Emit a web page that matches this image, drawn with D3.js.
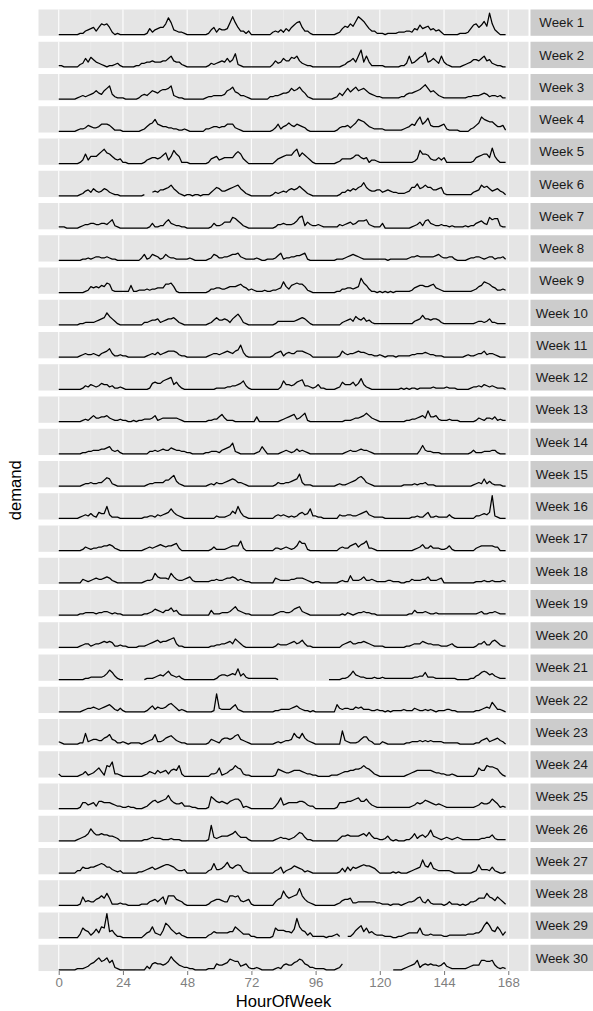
<!DOCTYPE html>
<html>
<head>
<meta charset="utf-8">
<script src="https://cdn.jsdelivr.net/npm/d3@7"></script>
<style>
body { margin: 0; background: #fff; }
svg text { font-family: "Liberation Sans", Arial, Helvetica, sans-serif; }
</style>
</head>
<body>
<div id="chart"></div>
<script>
// hourly demand per week, 168 values each (hour 0..167), null = no data
const week1 = [0,0,0,0,0,0,0,0,1,1,3,4,5,6,3,6,9,8,9,6,2,0,1,0,
  0,0,0,0,0,0,0,0,0,1,5,2,4,5,6,6,9,14,10,4,3,2,2,1,
  0,0,0,0,0,0,0,0,1,4,6,2,5,4,4,5,10,15,10,6,3,3,1,3,
  0,0,0,0,0,0,0,0,2,3,2,4,2,5,3,6,8,10,11,6,3,3,1,0,
  0,0,0,0,0,0,0,0,1,2,5,7,6,9,7,11,15,13,11,8,5,3,3,1,
  1,1,0,1,1,1,1,2,2,2,3,3,2,5,4,8,5,6,7,4,5,3,4,2,
  0,0,0,0,0,0,1,1,1,2,5,8,9,6,8,11,7,18,9,4,2,0,0,0];
const week2 = [1,1,0,0,0,0,0,0,2,3,7,4,8,6,4,3,2,1,0,1,1,2,3,1,
  0,0,0,0,0,1,1,3,3,4,4,5,4,4,4,5,5,7,9,5,4,4,2,1,
  0,0,0,0,0,0,0,0,1,3,2,3,4,5,4,7,4,6,11,2,1,0,0,0,
  0,0,0,0,0,0,0,0,2,5,3,4,7,5,5,8,7,9,5,3,2,1,1,0,
  0,0,0,0,0,0,0,0,0,0,1,2,4,5,7,4,9,14,4,9,4,1,1,1,
  1,1,0,0,0,0,0,0,1,1,3,9,3,4,6,8,9,12,4,5,7,5,3,9,
  4,2,1,0,0,0,0,1,2,3,4,6,6,5,7,9,5,6,3,2,1,1,0,0];
const week3 = [0,0,0,0,0,0,0,1,2,3,2,3,4,5,7,5,4,7,9,11,4,2,1,1,
  1,0,0,0,0,0,1,3,4,3,5,7,6,5,7,8,8,9,11,3,2,1,1,0,
  0,0,0,0,0,0,0,1,2,2,3,3,3,3,4,7,8,10,6,5,3,3,2,1,
  0,0,0,0,0,0,0,2,2,3,3,4,5,5,6,9,7,8,10,7,5,2,1,0,
  0,0,0,0,0,0,0,1,2,5,3,6,9,6,8,10,7,8,9,7,5,4,3,2,
  2,1,1,1,1,1,1,1,2,2,4,5,5,6,7,8,10,12,9,6,7,5,3,2,
  1,1,1,1,1,1,1,1,1,2,2,3,3,3,4,5,4,2,3,3,2,3,1,1];
const week4 = [0,0,0,0,0,0,0,1,2,2,3,5,4,3,3,4,6,6,6,5,3,1,1,1,
  0,0,0,0,0,0,0,1,2,4,6,7,10,6,5,4,4,3,3,2,2,1,1,2,
  1,0,0,0,0,0,0,2,2,3,4,4,3,4,4,6,6,6,3,2,1,0,0,0,
  0,0,0,0,0,0,0,0,1,3,6,2,4,5,7,5,4,6,5,4,3,1,0,0,
  0,0,0,0,0,0,0,0,1,3,4,4,5,3,5,7,10,9,8,6,4,3,2,2,
  2,2,1,1,1,1,1,1,1,2,3,4,6,5,9,12,6,8,11,5,4,4,4,5,
  6,2,1,1,1,1,0,0,0,0,2,3,5,7,12,10,9,8,8,6,4,4,5,1];
const week5 = [0,0,0,0,0,0,0,0,1,3,8,3,6,6,6,8,10,12,9,8,6,4,3,4,
  1,1,0,0,0,0,0,0,1,3,4,5,5,4,5,7,9,3,6,11,8,6,1,1,
  1,0,0,0,0,0,0,0,1,4,5,6,3,4,5,5,5,5,8,10,8,4,2,0,
  0,0,0,0,0,0,0,0,0,2,4,5,6,7,7,7,10,12,6,9,7,5,3,1,
  0,0,0,0,0,0,0,0,1,2,4,4,4,4,5,7,7,5,4,5,1,3,3,2,
  1,1,1,1,1,1,1,1,1,1,1,1,1,2,4,11,8,8,7,4,3,3,5,3,
  5,1,1,1,1,1,1,1,1,1,1,2,5,6,7,8,8,5,13,6,3,1,1,1];
const week6 = [0,0,0,0,0,0,0,0,1,2,4,5,3,6,4,3,4,6,5,3,2,1,1,0,
  0,0,0,0,0,0,0,0,1,null,null,3,4,3,5,5,6,7,9,6,4,2,1,0,
  1,1,0,1,1,0,1,1,1,3,5,7,6,4,4,5,6,7,8,9,6,4,2,1,
  0,0,0,0,0,0,0,0,1,3,2,3,4,3,5,6,5,6,8,6,4,2,1,0,
  0,0,0,0,0,0,0,0,0,1,3,3,5,4,6,5,7,8,11,7,5,4,4,5,
  5,3,4,5,4,3,3,2,2,2,3,4,7,7,10,6,7,9,7,7,5,5,6,7,
  2,1,1,1,1,1,1,1,1,1,1,3,4,5,9,7,8,6,4,5,6,4,3,1];
const week7 = [1,1,1,0,0,0,0,0,1,2,3,3,4,4,3,3,4,4,3,5,7,2,1,0,
  0,0,0,0,0,0,0,0,0,0,1,4,1,1,2,2,5,7,4,3,2,2,1,1,
  0,0,0,0,0,0,0,0,0,1,4,2,2,3,5,5,5,9,8,6,4,2,1,0,
  0,0,0,0,0,0,0,0,0,1,3,3,4,3,3,3,4,6,9,10,2,5,3,2,
  2,3,2,1,1,1,1,1,1,3,2,3,4,5,3,4,6,6,6,7,3,2,1,1,
  1,4,0,0,0,0,0,0,0,0,0,0,1,2,3,5,2,6,7,4,3,2,2,3,
  2,2,1,2,1,1,1,1,2,1,2,2,4,5,6,4,3,9,7,8,8,2,1,1];
const week8 = [0,0,0,0,0,0,0,0,0,1,1,2,1,2,3,3,2,2,3,2,1,1,0,0,
  0,0,0,0,0,0,0,2,5,1,2,5,4,3,1,2,5,3,2,2,1,1,1,1,
  1,2,1,0,0,0,0,0,1,2,5,4,2,2,3,3,4,5,5,6,3,2,1,1,
  1,1,2,1,0,0,1,1,1,2,4,6,1,2,2,3,3,4,4,5,6,1,0,0,
  0,0,0,0,0,0,0,0,1,1,1,2,3,4,5,4,3,2,1,1,1,1,1,1,
  1,1,1,0,1,1,1,1,1,1,1,2,3,3,4,3,3,3,3,3,3,4,5,3,
  2,2,3,3,1,0,0,0,0,1,2,2,3,3,2,1,2,3,3,1,2,2,3,1];
const week9 = [0,0,0,0,0,0,0,0,0,0,1,2,5,4,5,4,6,5,8,7,2,1,1,1,
  1,1,1,6,1,1,2,2,2,3,2,3,3,4,4,4,7,7,8,5,1,0,0,0,
  0,0,0,0,0,0,0,0,1,3,3,4,4,3,3,4,5,5,5,6,7,5,4,2,
  3,2,1,1,1,2,1,1,2,2,3,4,9,5,3,6,7,8,7,7,5,2,1,0,
  0,0,0,0,0,0,0,0,1,1,3,3,4,4,3,4,5,12,8,6,3,1,1,0,
  1,0,1,0,1,0,1,1,1,1,1,1,2,4,5,6,6,5,5,6,7,4,3,2,
  1,1,1,1,1,1,1,1,1,1,1,2,3,5,6,9,8,7,5,4,2,2,3,2];
const week10 = [0,0,0,0,0,0,0,0,1,1,2,2,2,2,3,4,5,6,10,7,5,3,1,0,
  0,0,0,0,0,0,0,0,2,2,3,4,4,5,2,3,4,5,5,6,4,2,1,0,
  0,0,0,0,0,0,0,0,1,2,4,6,4,4,5,4,2,5,7,9,6,2,1,0,
  0,0,0,0,0,0,0,0,0,1,3,3,3,3,3,3,3,4,5,6,5,3,1,0,
  0,0,0,0,0,0,0,0,0,0,2,3,4,5,3,7,5,4,6,3,4,2,1,1,
  1,1,1,1,1,1,1,1,1,1,1,1,1,3,4,5,8,5,5,4,5,5,4,2,
  1,1,1,1,1,1,1,1,1,1,1,1,2,3,3,2,3,5,2,2,1,1,1,1];
const week11 = [0,0,0,0,0,0,0,0,1,2,3,2,2,3,2,1,3,4,5,7,3,1,1,2,
  1,1,0,0,0,0,0,0,0,1,2,3,2,4,2,3,4,5,5,5,4,2,1,1,
  0,0,0,0,0,0,0,0,1,2,3,3,2,3,4,5,4,3,5,6,10,4,1,0,
  0,0,0,0,0,0,0,0,1,3,4,5,1,3,4,3,3,5,5,5,4,3,2,0,
  0,0,0,0,0,0,0,0,0,1,5,3,2,3,3,4,5,4,4,3,2,2,1,1,
  2,1,0,1,1,1,0,1,1,1,1,1,2,2,3,3,3,4,3,2,2,1,1,1,
  0,0,0,0,0,0,0,0,1,2,1,1,2,3,3,5,2,3,3,2,1,0,0,0];
const week12 = [0,0,0,0,0,0,0,0,0,1,3,2,4,3,2,3,5,4,4,2,3,1,1,2,
  1,0,0,0,0,0,0,0,0,0,1,5,6,5,5,7,8,9,10,4,6,3,1,0,
  0,0,0,0,0,0,0,0,0,0,0,1,1,1,1,2,2,3,3,4,5,7,3,1,
  0,0,0,0,0,0,0,0,0,0,0,2,7,4,4,3,4,6,7,8,3,3,2,1,
  2,4,1,1,0,0,0,0,1,2,6,4,4,4,6,3,5,9,4,2,1,0,0,0,
  0,0,0,0,0,0,0,0,1,0,1,0,1,1,0,1,1,1,1,1,2,1,1,1,
  1,2,1,1,1,0,0,0,0,0,1,2,2,3,2,4,3,2,3,2,1,1,1,0];
const week13 = [0,0,0,0,0,0,0,0,0,1,2,1,3,5,3,3,4,4,5,3,2,1,1,2,
  1,1,0,0,1,0,1,1,2,2,2,3,5,1,2,3,3,3,3,3,3,2,1,0,
  0,0,0,0,0,0,0,0,1,1,2,2,4,6,3,1,1,1,0,0,0,0,0,0,
  0,0,4,0,0,0,0,0,0,0,0,1,2,3,4,5,6,2,3,5,7,1,0,0,
  0,0,0,0,0,0,0,0,0,0,0,1,1,1,2,3,3,4,5,7,5,3,2,1,
  0,0,0,0,0,0,0,0,0,0,1,1,2,2,3,4,5,3,9,4,4,5,2,1,
  1,1,2,1,1,1,0,0,0,0,0,0,1,3,2,1,3,3,2,4,1,2,1,1];
const week14 = [0,0,0,0,0,0,0,0,0,1,1,2,2,3,3,3,4,4,5,6,3,2,3,1,
  0,0,0,0,0,0,0,0,0,0,2,2,3,2,3,4,3,3,5,4,3,3,2,2,
  1,1,0,0,0,0,0,1,1,2,2,2,1,3,4,5,6,9,2,1,0,0,0,0,
  0,0,1,2,6,3,0,0,0,0,0,1,2,3,2,1,2,4,2,3,2,1,0,0,
  0,0,0,0,0,0,0,0,0,0,0,1,2,3,2,2,3,4,3,3,2,1,0,0,
  0,0,0,0,0,0,0,0,0,0,0,0,0,0,0,3,7,3,2,2,1,1,1,0,
  0,0,0,0,0,0,0,0,0,0,1,3,1,1,1,2,2,2,3,3,1,0,0,0];
const week15 = [0,0,0,0,0,0,0,0,0,1,2,2,3,2,2,3,3,5,7,6,2,1,0,0,
  0,0,0,0,0,0,0,0,0,1,2,2,3,3,3,3,5,5,7,9,4,2,1,0,
  0,0,0,0,0,0,0,0,1,2,1,3,2,2,3,4,5,6,5,3,3,2,1,0,
  0,0,0,0,0,0,0,0,0,1,3,2,2,3,3,4,5,6,10,3,1,1,1,0,
  0,0,0,0,0,0,0,0,1,2,1,1,2,3,4,5,7,8,6,3,2,1,0,0,
  0,0,0,0,0,0,0,0,0,1,1,1,1,2,1,2,2,3,1,1,1,0,0,0,
  0,0,0,0,0,0,0,0,0,0,0,1,2,3,2,6,2,4,2,1,1,1,0,0];
const week16 = [0,0,0,0,0,0,0,0,1,2,3,2,4,2,1,5,4,4,10,3,1,1,1,0,
  0,0,0,0,0,0,0,0,1,1,2,2,1,3,2,3,4,5,8,5,3,2,1,0,
  0,0,0,0,0,0,0,0,0,0,0,2,1,1,1,2,3,6,4,10,5,2,1,0,
  0,0,0,0,0,0,0,0,0,2,3,2,3,2,1,2,1,2,4,5,3,4,8,2,
  2,1,1,0,0,0,0,0,0,3,2,2,3,3,2,2,3,4,5,6,3,2,1,1,
  1,1,0,0,0,0,0,0,0,0,0,0,1,1,2,1,1,3,5,1,1,2,1,1,
  1,1,3,1,0,0,0,0,0,0,0,0,2,2,3,4,3,5,19,2,1,0,0,0];
const week17 = [0,0,0,0,0,0,0,0,0,1,3,2,1,2,2,3,3,4,4,5,4,2,1,0,
  0,0,0,0,0,0,0,0,1,2,3,2,3,4,5,4,3,4,4,5,6,2,0,0,
  0,0,0,0,0,0,0,0,0,1,3,1,1,1,1,2,3,4,4,4,8,2,0,0,
  0,0,0,0,0,0,0,0,0,2,2,1,2,3,2,1,2,4,8,6,6,1,0,0,
  0,0,0,0,0,0,0,0,0,2,3,2,2,4,5,6,3,5,6,8,2,2,1,0,
  0,0,0,0,0,0,0,0,0,0,0,0,0,1,2,3,5,2,2,4,2,2,2,1,
  1,2,4,1,0,0,0,0,0,0,0,0,2,3,4,4,4,4,4,3,3,0,0,0];
const week18 = [0,0,0,0,0,0,0,0,0,3,2,1,2,3,4,3,3,4,5,4,2,1,0,0,
  0,0,0,0,0,0,0,0,1,2,2,3,8,5,4,4,4,3,8,5,3,2,2,3,
  4,5,2,1,1,1,1,1,1,2,2,3,2,2,3,4,4,5,4,2,3,2,1,1,
  0,0,0,0,0,0,0,0,0,4,3,2,2,2,2,3,3,4,4,4,3,2,1,0,
  1,1,0,0,0,0,0,0,0,1,2,1,1,6,2,2,2,3,5,2,2,3,2,1,
  1,1,1,2,2,1,1,1,0,0,1,1,3,2,2,2,3,3,5,2,2,2,3,4,
  0,0,0,0,0,0,0,0,0,0,0,0,1,1,1,2,1,1,2,1,1,1,2,1];
const week19 = [0,0,0,0,0,0,0,0,1,1,2,2,2,2,1,2,2,3,3,2,1,2,1,1,
  0,0,0,0,0,0,0,0,1,1,2,3,5,4,3,2,4,4,6,3,4,1,0,0,
  0,0,0,0,0,0,0,0,0,4,1,1,1,2,2,2,3,5,7,4,3,2,1,1,
  0,0,0,0,0,0,0,0,0,1,2,3,3,2,2,3,5,6,7,3,2,1,0,0,
  0,0,0,0,0,0,0,0,0,0,1,0,2,1,0,1,2,2,3,2,2,1,1,0,
  0,0,0,0,0,0,0,0,0,0,0,1,1,4,2,2,2,3,2,1,1,2,1,1,
  1,1,1,1,1,1,1,1,1,1,1,1,1,2,3,1,1,2,2,3,2,1,1,1];
const week20 = [0,0,0,0,0,0,0,0,1,2,3,3,1,2,3,3,4,5,4,5,4,1,1,2,
  1,1,0,0,0,0,1,1,1,2,3,4,5,6,4,5,5,6,7,8,3,1,1,0,
  0,0,0,0,0,0,0,0,0,1,1,2,2,3,3,4,5,3,7,5,3,1,0,0,
  0,0,0,0,0,0,0,0,0,1,3,2,2,2,3,4,5,3,4,6,3,1,1,0,
  0,0,0,0,0,0,0,0,0,0,2,3,4,5,3,3,4,4,5,4,3,2,1,1,
  1,1,0,0,0,0,0,0,0,0,1,1,2,3,3,3,5,4,3,3,2,2,2,1,
  1,1,2,3,1,0,0,0,0,0,0,0,1,3,3,5,2,2,5,6,4,2,1,1];
const week21 = [0,0,0,0,0,0,0,0,0,0,1,1,2,2,2,2,2,3,5,8,6,3,1,0,
  0,null,null,null,null,null,null,null,0,1,1,1,2,3,4,3,5,7,4,3,2,3,1,0,
  0,0,0,0,0,0,0,0,0,0,0,1,3,4,4,3,4,5,4,9,3,5,2,1,
  1,1,1,1,1,1,1,1,1,1,0,null,null,null,null,null,null,null,null,null,null,null,null,null,
  null,null,null,null,null,0,0,0,0,0,1,1,2,4,7,4,3,2,2,1,1,1,2,1,
  1,2,1,1,1,1,1,1,1,1,1,1,1,2,2,3,3,6,2,2,2,1,1,1,
  1,1,1,1,1,0,0,0,0,0,1,1,3,4,6,7,6,4,5,3,2,1,1,1];
const week22 = [0,0,0,0,0,0,0,0,0,1,2,3,3,4,3,2,3,4,5,6,4,2,1,3,
  1,0,0,0,0,0,0,0,0,1,3,5,2,4,3,3,4,6,7,5,3,1,2,1,
  0,0,0,0,0,0,0,0,0,0,1,15,3,2,2,2,2,4,6,2,1,0,0,0,
  0,0,0,0,0,0,0,0,0,1,1,2,2,2,2,3,4,5,3,2,1,1,0,1,
  0,0,0,0,0,0,0,0,6,3,2,3,3,2,2,4,3,4,2,2,2,1,1,2,
  1,1,0,1,0,1,1,1,1,2,1,1,1,3,2,1,1,2,1,2,1,0,1,1,
  1,2,2,1,1,0,0,0,0,0,0,0,1,1,2,3,4,3,8,5,2,2,1,0];
const week23 = [2,1,0,0,0,0,0,0,1,1,9,2,3,4,4,3,3,5,6,8,4,3,1,1,
  2,1,0,1,1,1,1,0,1,2,3,4,8,2,2,3,5,6,7,5,3,2,1,1,
  0,0,0,0,0,0,0,0,1,4,3,2,1,4,5,5,4,5,7,8,4,3,2,1,
  0,0,0,0,0,0,0,0,0,1,2,1,2,3,3,4,9,6,5,9,5,3,2,1,
  0,0,0,0,0,0,0,0,0,0,11,3,2,1,1,1,2,4,6,6,3,2,0,0,
  0,2,1,0,0,0,0,0,0,0,1,1,2,2,2,3,2,3,2,3,2,2,2,2,
  1,1,1,1,1,1,0,0,0,0,0,0,1,1,3,4,5,2,3,4,5,3,2,0];
const week24 = [2,0,0,0,0,0,0,0,1,2,4,1,2,3,5,7,4,1,9,8,12,2,2,1,
  0,0,0,0,0,0,0,0,1,2,4,3,2,5,3,4,5,2,5,6,5,9,2,0,
  0,0,0,0,0,0,0,0,0,2,2,3,7,1,2,3,5,6,9,7,6,2,1,1,
  0,0,0,0,0,0,0,0,0,1,6,5,4,3,3,4,5,5,5,4,3,2,2,1,
  1,0,0,0,0,0,1,1,1,2,3,4,4,5,5,6,6,7,9,7,6,4,2,1,
  0,0,0,0,0,0,0,0,0,0,1,2,3,4,5,5,5,5,5,5,4,3,3,2,
  2,1,1,2,1,0,0,0,0,0,0,0,2,7,5,5,9,8,8,7,6,3,1,0];
const week25 = [0,0,0,0,0,0,0,0,1,5,5,3,4,5,2,6,6,5,5,5,4,3,2,2,
  1,1,2,1,1,0,0,0,1,2,4,6,7,5,6,7,8,11,7,5,4,4,5,2,
  2,2,1,1,0,0,0,0,1,10,8,6,5,6,5,4,6,7,8,8,6,1,2,1,
  0,0,0,0,0,0,0,0,0,2,5,9,3,4,5,5,5,5,6,6,5,3,2,2,
  0,0,0,0,0,0,0,0,1,5,5,5,6,6,7,8,9,6,6,8,5,3,2,1,
  1,1,1,1,1,1,1,1,1,1,1,1,2,3,5,4,5,7,6,5,4,3,4,3,
  2,1,1,1,1,1,1,1,1,1,1,1,2,3,5,4,4,5,8,6,4,1,2,1];
const week26 = [0,0,0,0,0,0,0,1,2,3,4,6,10,7,5,5,6,5,5,4,4,3,2,0,
  0,0,0,0,0,0,0,0,1,1,2,3,2,2,2,1,1,1,2,1,1,1,0,0,
  0,0,0,0,0,0,0,0,1,13,3,2,3,4,4,4,5,6,8,5,3,3,3,1,
  0,0,0,0,0,0,0,0,0,1,2,3,2,2,1,2,3,5,7,6,3,1,1,0,
  0,0,0,0,0,0,0,0,0,2,4,4,5,4,4,4,4,5,6,4,7,4,2,2,
  1,1,2,4,1,0,1,0,0,0,1,1,3,6,2,4,5,3,5,9,4,3,2,1,
  2,3,2,1,2,3,2,1,1,1,1,1,1,1,2,2,3,3,5,2,1,1,1,1];
const week27 = [0,0,0,0,0,0,0,2,2,5,4,4,5,5,6,7,8,7,5,5,3,2,1,2,
  0,0,0,0,0,0,1,1,2,3,4,5,3,4,5,6,7,7,6,5,3,2,2,3,
  0,0,0,0,0,0,0,0,2,3,8,3,3,4,6,9,5,4,6,7,6,2,1,0,
  0,0,0,0,0,0,0,0,0,2,3,5,0,2,3,4,6,5,4,3,1,2,1,0,
  0,0,0,0,0,0,0,0,0,1,4,1,5,2,5,4,5,6,7,6,6,5,4,2,
  0,0,0,0,0,1,0,1,0,0,0,1,2,3,4,5,11,6,5,9,4,3,2,2,
  2,2,2,1,0,0,0,0,0,0,0,1,2,7,3,3,3,2,5,2,1,0,0,1];
const week28 = [0,0,0,0,0,0,0,0,1,7,3,4,3,3,5,6,8,6,10,6,1,1,1,2,
  1,1,0,0,0,0,0,1,1,1,3,4,5,3,5,7,1,8,8,8,5,4,3,1,
  0,0,0,0,0,0,0,0,1,3,4,5,5,4,3,3,8,8,7,8,4,3,4,5,
  1,0,0,0,0,0,0,0,0,3,5,6,12,8,6,7,8,9,14,8,5,3,2,1,
  0,0,0,0,0,0,0,0,1,2,4,5,5,6,2,2,3,3,3,3,3,3,3,2,
  2,1,1,1,0,1,1,1,0,1,2,3,3,4,6,7,3,2,5,2,1,1,1,1,
  0,1,3,1,1,1,0,1,0,1,3,3,4,6,6,6,10,7,6,4,7,5,3,1];
const week29 = [0,0,0,0,0,0,0,0,3,8,6,5,2,4,7,4,9,8,20,5,6,3,1,1,
  0,0,0,0,0,0,0,0,2,4,5,9,4,3,2,6,12,10,7,5,3,4,2,1,
  0,0,0,0,0,0,0,0,2,3,5,4,4,4,4,4,5,5,9,7,5,3,3,3,
  1,1,0,0,0,0,0,0,1,8,6,6,6,5,5,4,7,16,9,6,5,2,4,1,
  1,1,1,1,0,1,1,2,3,1,null,null,1,1,3,6,8,10,5,8,4,5,3,2,
  2,2,1,1,1,0,0,1,1,2,3,4,4,4,4,8,3,2,2,3,2,2,2,2,
  1,1,2,2,2,2,2,2,2,3,3,3,4,4,6,10,13,10,6,5,9,6,2,5];
const week30 = [0,0,0,0,0,0,0,1,1,1,2,3,5,6,8,10,7,8,10,6,8,2,1,0,
  0,0,0,0,0,0,0,0,0,3,1,5,6,5,5,4,5,7,11,8,6,4,3,2,
  2,1,1,0,0,0,0,0,1,1,1,5,4,4,5,6,9,8,7,7,3,4,5,2,
  1,1,2,1,0,0,0,0,0,1,2,1,4,5,4,4,6,7,9,8,5,4,2,2,
  1,1,1,1,0,0,0,0,1,2,5,null,null,null,null,null,null,null,null,null,null,null,null,null,
  null,null,null,null,null,0,0,0,0,1,2,3,4,5,8,2,4,5,4,5,4,4,3,4,
  6,3,2,1,1,1,1,1,1,2,3,4,4,4,8,8,7,7,8,4,2,1,2,1];

const weeks = [week1, week2, week3, week4, week5, week6, week7, week8, week9, week10,
  week11, week12, week13, week14, week15, week16, week17, week18, week19, week20,
  week21, week22, week23, week24, week25, week26, week27, week28, week29, week30];
const xBreaks = [0, 24, 48, 72, 96, 120, 144, 168];
const xMinor = [12, 36, 60, 84, 108, 132, 156];

var W = 593, H = 1011;
var panelLeft = 38.5, panelRight = 528.5;
var stripLeft = 530.5, stripRight = 593;
var panelTop = 9.5, panelH = 26.3, panelStep = 32.25;

var svg = d3.select("#chart").append("svg")
    .attr("width", W).attr("height", H);

// x scale with ggplot style 4.5% padding
var x = d3.scaleLinear().domain([-7.56, 175.56]).range([panelLeft, panelRight]);
var yMax = d3.max(weeks, function(w) { return d3.max(w); });
var y = d3.scaleLinear().domain([-0.05 * yMax, 1.05 * yMax]).range([panelH, 0]);

var line = d3.line()
    .defined(function(d) { return d != null; })
    .x(function(d, i) { return x(i); })
    .y(function(d) { return y(d); });

var panels = svg.selectAll("g.panel")
    .data(weeks)
    .enter().append("g")
    .attr("class", "panel")
    .attr("transform", function(d, i) { return "translate(0," + (panelTop + i * panelStep) + ")"; });

panels.append("rect")
    .attr("x", panelLeft).attr("y", 0)
    .attr("width", panelRight - panelLeft).attr("height", panelH)
    .attr("fill", "#e5e5e5");

panels.each(function() {
    var g = d3.select(this);
    g.selectAll("line.minor").data(xMinor).enter().append("line")
        .attr("x1", function(d) { return x(d); }).attr("x2", function(d) { return x(d); })
        .attr("y1", 0).attr("y2", panelH)
        .attr("stroke", "#f2f2f2").attr("stroke-width", 0.55);
    g.selectAll("line.major").data(xBreaks).enter().append("line")
        .attr("x1", function(d) { return x(d); }).attr("x2", function(d) { return x(d); })
        .attr("y1", 0).attr("y2", panelH)
        .attr("stroke", "#ffffff").attr("stroke-width", 1.07);
});

panels.append("path")
    .attr("d", function(d) { return line(d); })
    .attr("fill", "none")
    .attr("stroke", "#000")
    .attr("stroke-width", 1.25)
    .attr("stroke-linejoin", "round");

// strips
panels.append("rect")
    .attr("x", stripLeft).attr("y", 0)
    .attr("width", stripRight - stripLeft).attr("height", panelH)
    .attr("fill", "#cccccc");
panels.append("text")
    .attr("x", (stripLeft + stripRight) / 2)
    .attr("y", panelH / 2 + 4.7)
    .attr("text-anchor", "middle")
    .attr("fill", "#1a1a1a")
    .style("font-size", "13.3px")
    .text(function(d, i) { return "Week " + (i + 1); });

// x axis under the last panel
var bottom = panelTop + (weeks.length - 1) * panelStep + panelH;
var xAxis = d3.axisBottom(x).tickValues(xBreaks).tickSize(4).tickPadding(3);
var ax = svg.append("g")
    .attr("transform", "translate(0," + bottom + ")")
    .call(xAxis);
ax.select(".domain").remove();
ax.selectAll(".tick line").attr("stroke", "#7f7f7f").attr("stroke-width", 1.07);
ax.selectAll(".tick text")
    .attr("fill", "#7f7f7f")
    .style("font-size", "13.3px")
    .style("font-family", "'Liberation Sans', Arial, sans-serif");

svg.append("text")
    .attr("x", (panelLeft + panelRight) / 2)
    .attr("y", 1007)
    .attr("text-anchor", "middle")
    .style("font-size", "16.6px")
    .text("HourOfWeek");

svg.append("text")
    .attr("transform", "translate(21," + ((panelTop + bottom) / 2) + ")rotate(-90)")
    .attr("text-anchor", "middle")
    .style("font-size", "16.6px")
    .text("demand");
</script>
</body>
</html>
